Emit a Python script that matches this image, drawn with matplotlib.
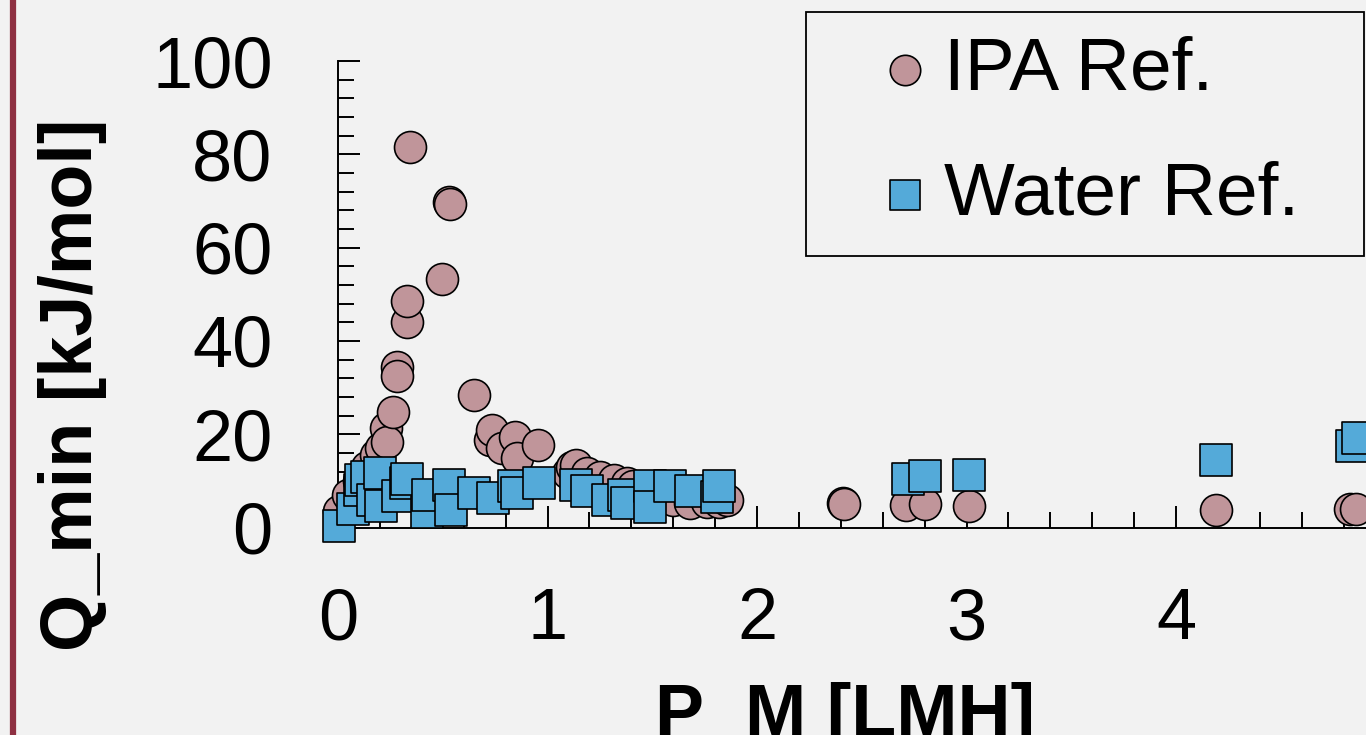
import matplotlib
matplotlib.use('Agg')
import matplotlib.pyplot as plt
from matplotlib.ticker import MultipleLocator
from matplotlib.patches import Rectangle

plt.rcParams['font.family'] = ['Liberation Sans', 'DejaVu Sans']

# IPA reference points (flux P_M in LMH, Q_min in kJ/mol)
ipa_x = [0.005, 0.05, 0.10, 0.14, 0.18, 0.203, 0.229, 0.235, 0.262, 0.280, 0.283,
         0.328, 0.331, 0.344, 0.498, 0.530, 0.535, 0.649, 0.726, 0.734, 0.785,
         0.845, 0.853, 0.957, 1.10, 1.115, 1.134, 1.19, 1.25, 1.316, 1.38, 1.41,
         1.50, 1.60, 1.68, 1.76, 1.82, 1.855, 2.41, 2.416, 2.71, 2.80, 3.01,
         4.19, 4.83, 4.86]
ipa_y = [3.5, 7.0, 10.0, 13.0, 15.5, 17.0, 21.3, 18.4, 24.8, 34.5, 32.5,
         44.0, 48.6, 81.5, 53.2, 69.8, 69.3, 28.4, 18.8, 20.9, 17.0,
         19.5, 14.8, 17.7, 11.7, 13.0, 13.4, 11.6, 10.9, 10.2, 9.5, 9.0,
         6.0, 6.0, 5.2, 5.5, 5.5, 5.9, 5.2, 5.0, 4.8, 5.0, 4.6,
         3.75, 3.9, 3.9]

# Water reference points
water_x = [0.006, 0.073, 0.105, 0.11, 0.137, 0.169, 0.20, 0.203, 0.285, 0.326,
           0.33, 0.426, 0.431, 0.53, 0.537, 0.651, 0.738, 0.84, 0.855, 0.961,
           1.134, 1.19, 1.29, 1.363, 1.38, 1.488, 1.49, 1.585, 1.683, 1.81,
           1.82, 2.72, 2.80, 3.01, 4.19, 4.84, 4.87]
water_y = [0.3, 3.9, 8.0, 10.2, 10.9, 5.9, 11.7, 4.6, 6.75, 9.5,
           10.5, 3.4, 7.0, 9.1, 3.75, 7.3, 6.3, 9.0, 7.3, 9.5,
           9.1, 7.9, 5.9, 7.0, 5.2, 8.9, 4.5, 9.0, 7.8, 6.6,
           9.0, 10.3, 11.0, 11.25, 14.4, 17.5, 19.1]

bg = '#f2f2f2'
W, H = 1366, 735
fig = plt.figure(figsize=(W / 100, H / 100), dpi=100, facecolor=bg)

# axes run past the right edge of the picture, like the cropped original
x_max = 5.5
left, bottom = 338 / W, (H - 527.5) / H
top = (H - 61) / H
ax = fig.add_axes([left, bottom, (x_max * 209.5) / W, top - bottom], facecolor=bg)

ax.scatter(ipa_x, ipa_y, s=530, marker='o', c='#c0959a', edgecolors='black',
           linewidths=1.2, clip_on=False, zorder=3, label='IPA Ref.')
ax.scatter(water_x, water_y, s=530, marker='s', c='#54aad9', edgecolors='black',
           linewidths=1.2, clip_on=False, zorder=4, label='Water Ref.')

ax.set_xlim(0, x_max)
ax.set_ylim(0, 100)
ax.spines['top'].set_visible(False)
ax.spines['right'].set_visible(False)
for s in ['left', 'bottom']:
    ax.spines[s].set_linewidth(1.4)

ax.xaxis.set_major_locator(MultipleLocator(1))
ax.xaxis.set_minor_locator(MultipleLocator(0.2))
ax.yaxis.set_major_locator(MultipleLocator(20))
ax.yaxis.set_minor_locator(MultipleLocator(4))
ax.tick_params(which='both', direction='in', width=1.4, labelsize=52)
ax.tick_params(which='major', length=16)
ax.tick_params(which='minor', length=11.5)
ax.tick_params(axis='x', which='major', pad=43)
ax.tick_params(axis='y', which='major', pad=47)

ax.set_ylabel('Q_min [kJ/mol]', fontsize=53, fontweight='bold', va='center')
ax.yaxis.set_label_coords(73 / W, (H - 385) / H, transform=fig.transFigure)
ax.set_xlabel('P_M [LMH]', fontsize=53, fontweight='bold', va='baseline')
ax.xaxis.set_label_coords(845 / W, -1 / H, transform=fig.transFigure)

leg = ax.legend(loc='upper left', bbox_to_anchor=(882 / W, 1 - 36 / H),
                bbox_transform=fig.transFigure, frameon=False, fontsize=54,
                borderpad=0, borderaxespad=0, handlelength=0.6,
                handletextpad=0.23, labelspacing=0.74, markerscale=0.95)
fig.add_artist(Rectangle((806 / W, 1 - 256 / H), (1364 - 806) / W, (256 - 12) / H,
                         transform=fig.transFigure, fill=False,
                         edgecolor='black', linewidth=1.3))

# dark red rule on the left edge
fig.add_artist(plt.Line2D([13 / W, 13 / W], [0, 1], transform=fig.transFigure,
                          color='#8e3042', linewidth=4.5))

fig.savefig('out.png', dpi=100, facecolor=bg)
